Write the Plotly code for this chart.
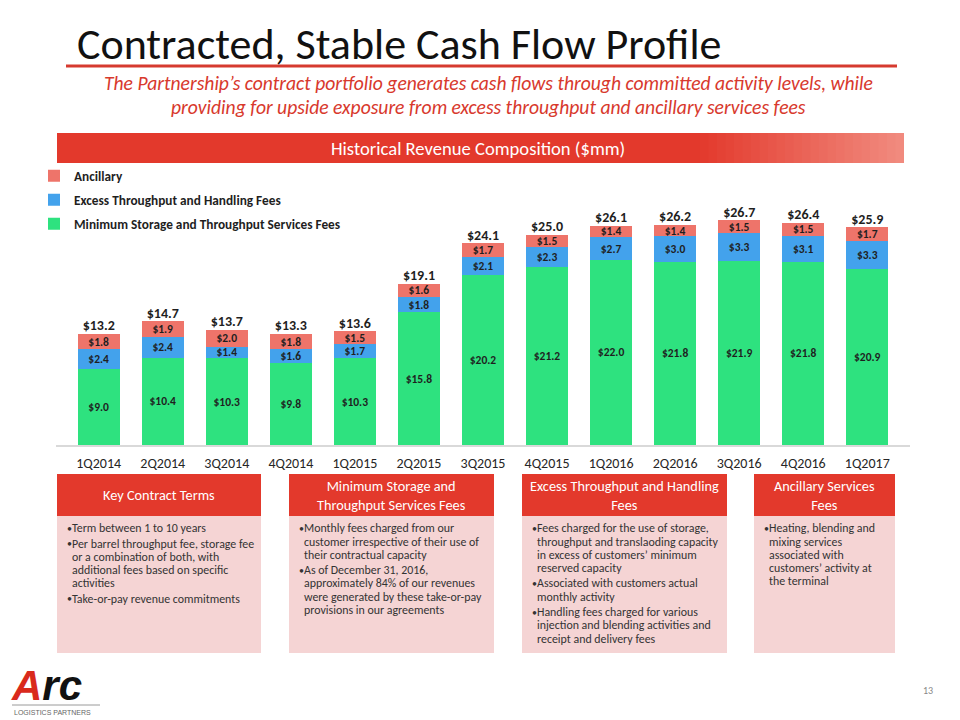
import plotly.graph_objects as go

# ---------------- data ----------------
quarters = ['1Q2014', '2Q2014', '3Q2014', '4Q2014', '1Q2015', '2Q2015', '3Q2015',
            '4Q2015', '1Q2016', '2Q2016', '3Q2016', '4Q2016', '1Q2017']
minimum_fees = [9.0, 10.4, 10.3, 9.8, 10.3, 15.8, 20.2, 21.2, 22.0, 21.8, 21.9, 21.8, 20.9]
excess_fees = [2.4, 2.4, 1.4, 1.6, 1.7, 1.8, 2.1, 2.3, 2.7, 3.0, 3.3, 3.1, 3.3]
ancillary_fees = [1.8, 1.9, 2.0, 1.8, 1.5, 1.6, 1.7, 1.5, 1.4, 1.4, 1.5, 1.5, 1.7]
totals = [13.2, 14.7, 13.7, 13.3, 13.6, 19.1, 24.1, 25.0, 26.1, 26.2, 26.7, 26.4, 25.9]

series_names = ['Minimum Storage and Throughput Services Fees',
                'Excess Throughput and Handling Fees',
                'Ancillary']

title_text = 'Contracted, Stable Cash Flow Profile'
subtitle_lines = ["The Partnership\u2019s contract portfolio generates cash flows through committed activity levels, while",
                  "providing for upside exposure from excess throughput and ancillary services fees"]
chart_header = 'Historical Revenue Composition ($mm)'

box_titles = ['Key Contract Terms',
              'Minimum Storage and<br>Throughput Services Fees',
              'Excess Throughput and Handling<br>Fees',
              'Ancillary Services<br>Fees']
box_bullets = [
    [['Term between 1 to 10 years'],
     ['Per barrel throughput fee, storage fee', 'or a combination of both, with',
      'additional fees based on specific', 'activities'],
     ['Take-or-pay revenue commitments']],
    [['Monthly fees charged from our', 'customer irrespective of their use of',
      'their contractual capacity'],
     ['As of December 31, 2016,', 'approximately 84% of our revenues',
      'were generated by these take-or-pay', 'provisions in our agreements']],
    [['Fees charged for the use of storage,', 'throughput and translaoding capacity',
      'in excess of customers\u2019 minimum', 'reserved capacity'],
     ['Associated with customers actual', 'monthly activity'],
     ['Handling fees charged for various', 'injection and blending activities and',
      'receipt and delivery fees']],
    [['Heating, blending and', 'mixing services', 'associated with',
      'customers\u2019 activity at', 'the terminal']],
]

# ---------------- style ----------------
W, H = 960, 720
FONT = 'Carlito, Lato, sans-serif'
GREEN = '#2ee27f'
BLUE = '#43a2ec'
RED = '#ee746a'
HEAD_RED = '#e3392c'
PINK = '#f5d4d4'
TXT = '#1f1f1f'


def px_x(x):
    return x / W


def px_y(y):
    return 1 - y / H


fig = go.Figure()

legend_ids = ['legend3', 'legend2', 'legend']
seg_text = lambda vals: ['$%.1f' % v for v in vals]
for name, vals, col, lg in zip(series_names, [minimum_fees, excess_fees, ancillary_fees],
                               [GREEN, BLUE, RED], legend_ids):
    fig.add_trace(go.Bar(
        x=quarters, y=vals, name=name, legend=lg,
        marker=dict(color=col, line=dict(width=0)),
        text=seg_text(vals), textposition='inside', insidetextanchor='middle',
        constraintext='none',
        textfont=dict(family=FONT, size=11.5, color=TXT, weight='bold'),
        hoverinfo='skip',
    ))

stack_tops = [a + b + c for a, b, c in zip(minimum_fees, excess_fees, ancillary_fees)]
fig.add_trace(go.Scatter(
    x=quarters, y=stack_tops, mode='text', text=['$%.1f' % t for t in totals],
    textposition='top center', showlegend=False, cliponaxis=False,
    textfont=dict(family=FONT, size=14, color=TXT, weight='bold'),
    hoverinfo='skip',
))

shapes = []
annotations = []

# title + underline
annotations.append(dict(x=px_x(75), y=px_y(44), xref='paper', yref='paper', text=title_text,
                        showarrow=False, xanchor='left', yanchor='middle',
                        font=dict(family=FONT, size=44, color='#111111', weight=300)))
shapes.append(dict(type='line', xref='paper', yref='paper', x0=px_x(66), x1=px_x(897),
                   y0=px_y(66), y1=px_y(66), line=dict(color='#d63a2f', width=3)))
for i, line in enumerate(subtitle_lines):
    annotations.append(dict(x=px_x(488), y=px_y(83 + 23.5 * i), xref='paper', yref='paper', text='<i>' + line + '</i>',
                            showarrow=False, xanchor='center', yanchor='middle',
                            font=dict(family=FONT, size=19.6, color='#d8392d')))

# chart header bar with fade to the right
hx0, hx1, hy0, hy1 = 57, 904, 133, 163
shapes.append(dict(type='rect', xref='paper', yref='paper', x0=px_x(hx0), x1=px_x(700),
                   y0=px_y(hy1), y1=px_y(hy0), fillcolor=HEAD_RED, line=dict(width=0), layer='below'))
nstrip = 24
c0 = (227, 57, 44)
c1 = (241, 140, 128)
for k in range(nstrip):
    xa = 700 + (hx1 - 700) * k / nstrip
    xb = 700 + (hx1 - 700) * (k + 1) / nstrip + 0.5
    t = (k + 0.5) / nstrip
    col = 'rgb(%d,%d,%d)' % tuple(round(c0[j] + (c1[j] - c0[j]) * t) for j in range(3))
    shapes.append(dict(type='rect', xref='paper', yref='paper', x0=px_x(xa), x1=px_x(min(xb, hx1)),
                       y0=px_y(hy1), y1=px_y(hy0), fillcolor=col, line=dict(width=0), layer='below'))
annotations.append(dict(x=px_x(478), y=px_y(149), xref='paper', yref='paper', text=chart_header,
                        showarrow=False, xanchor='center', yanchor='middle',
                        font=dict(family=FONT, size=18.6, color='white', weight=300)))

# bottom boxes
box_x = [(57, 261), (289, 494), (522, 727), (754, 895)]
for (bx0, bx1), ttl, bullets in zip(box_x, box_titles, box_bullets):
    shapes.append(dict(type='rect', xref='paper', yref='paper', x0=px_x(bx0), x1=px_x(bx1),
                       y0=px_y(516), y1=px_y(474), fillcolor=HEAD_RED, line=dict(width=0)))
    shapes.append(dict(type='rect', xref='paper', yref='paper', x0=px_x(bx0), x1=px_x(bx1),
                       y0=px_y(653), y1=px_y(516), fillcolor=PINK, line=dict(width=0)))
    annotations.append(dict(x=px_x((bx0 + bx1) / 2), y=px_y(495), xref='paper', yref='paper', text=ttl,
                            showarrow=False, xanchor='center', yanchor='middle',
                            font=dict(family=FONT, size=14.3, color='white')))
    y = 528.3
    for para in bullets:
        for j, ln in enumerate(para):
            if j == 0:
                annotations.append(dict(x=px_x(bx0 + 8), y=px_y(y), xref='paper', yref='paper',
                                        text='\u2022', showarrow=False, xanchor='left', yanchor='middle',
                                        font=dict(family=FONT, size=10, color='#333333')))
            annotations.append(dict(x=px_x(bx0 + 13), y=px_y(y), xref='paper', yref='paper',
                                    text=ln, showarrow=False, xanchor='left', yanchor='middle',
                                    font=dict(family=FONT, size=11.9, color='#333333')))
            y += 13.2
        y += 2.3

# logo + page number
annotations.append(dict(x=px_x(9), y=px_y(685), xref='paper', yref='paper',
                        text="<b><i><span style='color:#d92a1c'>A</span>rc</i></b>",
                        showarrow=False, xanchor='left', yanchor='middle',
                        font=dict(family='Liberation Sans, Arial', size=42, color='#111111')))
shapes.append(dict(type='line', xref='paper', yref='paper', x0=px_x(12), x1=px_x(100),
                   y0=px_y(705), y1=px_y(705), line=dict(color='#9a9a9a', width=1)))
annotations.append(dict(x=px_x(12), y=px_y(712), xref='paper', yref='paper', text='LOGISTICS PARTNERS',
                        showarrow=False, xanchor='left', yanchor='middle',
                        font=dict(family='Liberation Sans, Arial', size=7, color='#666666')))
annotations.append(dict(x=px_x(928), y=px_y(690), xref='paper', yref='paper', text='13',
                        showarrow=False, xanchor='center', yanchor='middle',
                        font=dict(family=FONT, size=10, color='#888888')))


def legend_box(ycenter):
    return dict(x=px_x(34), y=px_y(ycenter), xanchor='left', yanchor='middle', itemwidth=30,
                bgcolor='rgba(0,0,0,0)',
                font=dict(family=FONT, size=13.3, color=TXT, weight='bold'))


fig.update_layout(
    width=W, height=H, autosize=False,
    margin=dict(l=0, r=0, t=0, b=0),
    paper_bgcolor='white', plot_bgcolor='white',
    barmode='stack', bargap=0.345,
    font=dict(family=FONT, color=TXT),
    showlegend=True,
    legend=legend_box(176),
    legend2=legend_box(200),
    legend3=legend_box(224),
    xaxis=dict(domain=[px_x(56), px_x(910)], type='category', showgrid=False, zeroline=False,
               showline=True, linecolor='#d9d9d9', linewidth=1.5, ticks='',
               ticklabelstandoff=4,
               tickfont=dict(family=FONT, size=14, color='#262626')),
    yaxis=dict(domain=[px_y(445), px_y(192.7)], range=[0, 30], visible=False, showgrid=False),
    shapes=shapes, annotations=annotations,
)

fig.write_html('out.html', config={'displayModeBar': False},
               post_script="document.body.style.margin='0';")
